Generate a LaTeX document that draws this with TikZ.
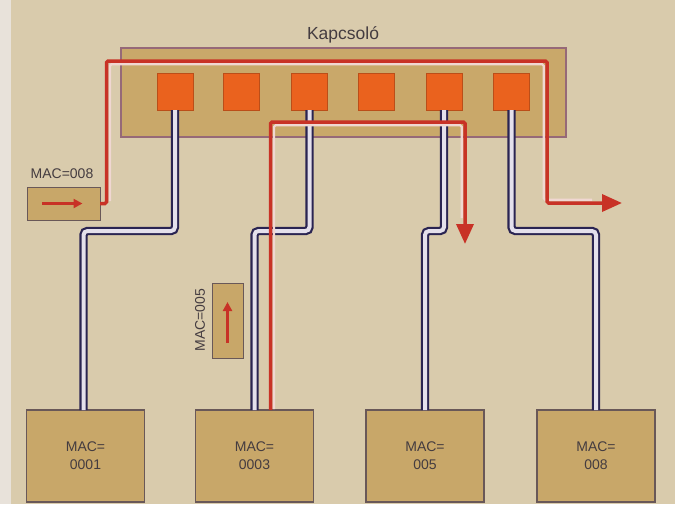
\documentclass[tikz,border=0pt]{standalone}
\usepackage{fontspec}
\setmainfont{Liberation Sans}
\usetikzlibrary{arrows.meta}
\definecolor{bgc}{RGB}{217,203,172}
\definecolor{stripc}{RGB}{232,226,218}
\definecolor{swfill}{RGB}{201,168,106}
\definecolor{swedge}{RGB}{150,105,120}
\definecolor{portc}{RGB}{234,98,30}
\definecolor{boxfill}{RGB}{200,167,105}
\definecolor{boxedge}{RGB}{105,88,88}
\definecolor{redc}{RGB}{200,50,38}
\definecolor{glowc}{RGB}{240,215,210}
\definecolor{navyc}{RGB}{42,36,82}
\definecolor{cablein}{RGB}{228,224,236}
\definecolor{txtc}{RGB}{68,60,64}
\tikzset{
  switchbox/.style={draw=swedge, line width=1.3pt, fill=swfill, inner sep=0pt, outer sep=0pt},
  port/.style={fill=portc, draw=portc!80!black, line width=0.4pt, minimum width=36pt, minimum height=37pt, inner sep=0pt, outer sep=0pt},
  pcbox/.style={draw=boxedge, line width=1.2pt, fill=boxfill, minimum width=118pt, minimum height=92pt, inner sep=0pt, outer sep=0pt, text=txtc, font=\fontsize{14}{18}\selectfont, align=center},
  tagbox/.style={draw=boxedge, line width=1pt, fill=boxfill, inner sep=0pt, outer sep=0pt},
  lbl/.style={text=txtc, font=\fontsize{14}{16}\selectfont, inner sep=0pt},
  cable/.style={draw=navyc, line width=2.2pt, double=cablein, double distance=4pt, rounded corners=4pt},
  redpath/.style={draw=redc, line width=3.5pt, rounded corners=1.5pt},
  glow/.style={draw=glowc, line width=2.2pt, rounded corners=1.5pt},
  smallarrow/.style={draw=redc, line width=2.4pt, -{Triangle[length=9pt,width=9pt]}},
  bigtip/.style={-{Triangle[length=20pt,width=17pt]}}
}
\begin{document}
\begin{tikzpicture}[x=1pt,y=-1pt]
\useasboundingbox (0,0) rectangle (675,504);
\fill[bgc] (0,0) rectangle (675,504);
\fill[stripc] (0,0) rectangle (11,504);

% switch
\node[switchbox, minimum width=445pt, minimum height=89pt] (sw) at (343.5,92.5) {};
\node[lbl, font=\fontsize{17.5}{20}\selectfont] (swl) at (343,35) {Kapcsoló};
\node[port] (p1) at (175,91.5) {};
\node[port] (p2) at (241.5,91.5) {};
\node[port] (p3) at (309.5,91.5) {};
\node[port] (p4) at (376.5,91.5) {};
\node[port] (p5) at (444,91.5) {};
\node[port] (p6) at (511.5,91.5) {};

% computers
\node[pcbox] (pc1) at (85.5,456) {MAC=\\0001};
\node[pcbox] (pc2) at (254.5,456) {MAC=\\0003};
\node[pcbox] (pc3) at (425,456) {MAC=\\005};
\node[pcbox] (pc4) at (596,456) {MAC=\\008};

% cables
\draw[cable] (p1.south) -- ++(0,121) -| ([xshift=-2pt]pc1.north);
\draw[cable] (p3.south) -- ++(0,121) -| (pc2.north);
\draw[cable] (p5.south) -- ++(0,121) -| (pc3.north);
\draw[cable] (p6.south) -- ++(0,121) -| (pc4.north);

% tag boxes
\node[tagbox, minimum width=73pt, minimum height=33pt] (m8) at (63.5,203.5) {};
\node[lbl] (m8l) at (62,174) {MAC=008};
\draw[smallarrow] ([xshift=-21.5pt]m8.center) -- ([xshift=19pt]m8.center);
\node[tagbox, minimum width=31pt, minimum height=75pt] (m5) at (227.5,320.5) {};
\node[lbl, rotate=90] (m5l) at (200,320) {MAC=005};
\draw[smallarrow] ([yshift=-22pt]m5.center) -- ([yshift=18.5pt]m5.center);

% red path 1 (MAC=008 frame)
\coordinate (r1a) at (106.5,61);
\coordinate (r1b) at (547,61);
\coordinate (r1c) at (547,203);
\coordinate (r1e) at (622,203);
\draw[glow] (110,201) -- (110,64.3) -- (543.7,64.3) -- (543.7,199.7) -- (592,199.7);
\draw[redpath, bigtip] (m8.east) -| (r1a) -- (r1b) -- (r1c) -- (r1e);

% red path 2 (MAC=005 frame)
\coordinate (r2s) at ([xshift=16pt]pc2.north);
\coordinate (r2b) at (465,122);
\coordinate (r2e) at (465,244);
\draw[glow] (274,409) -- (274,125.3) -- (461.7,125.3) -- (461.7,218);
\draw[redpath, bigtip] (r2s) |- (r2b) -- (r2e);
\end{tikzpicture}
\end{document}
